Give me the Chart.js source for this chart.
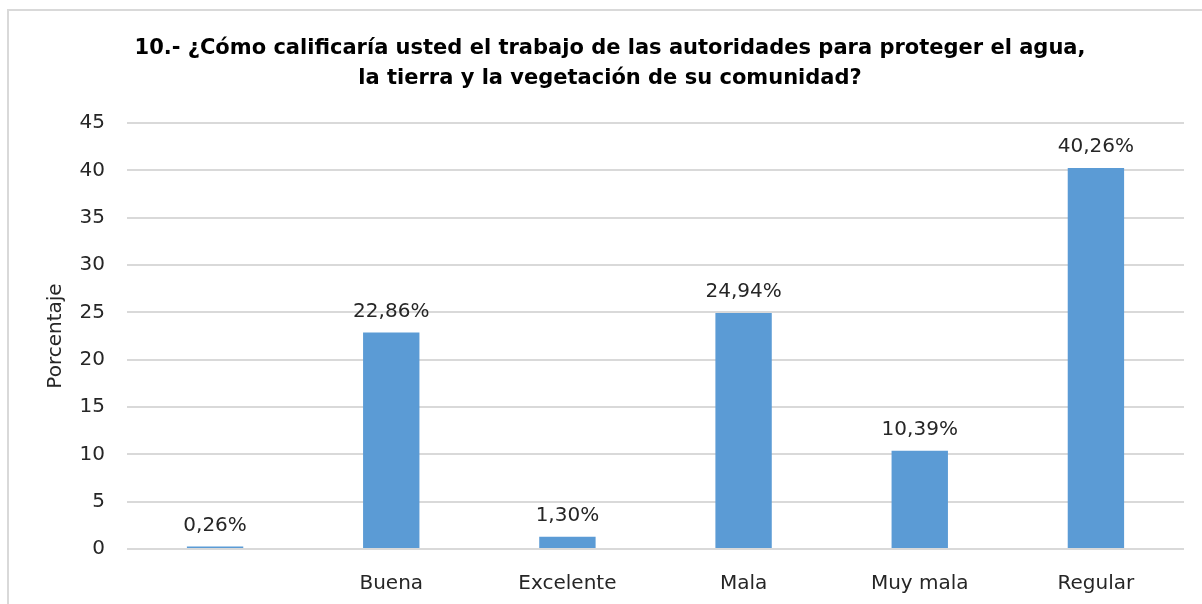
<!DOCTYPE html>
<html>
<head>
<meta charset="utf-8">
<script src="https://cdn.jsdelivr.net/npm/chart.js@4"></script>
<style>
  body { margin: 0; background: #fff; }
  #wrap { width: 1202px; height: 604px; }
</style>
</head>
<body>
<div id="wrap"><canvas id="grafico"></canvas></div>
<script>
// dados
const categorias = ["", "Buena", "Excelente", "Mala", "Muy mala", "Regular"];
const porcentagens = [0.26, 22.86, 1.30, 24.94, 10.39, 40.26];
const ticksY = [0, 5, 10, 15, 20, 25, 30, 35, 40, 45];

const fonte = "'DejaVu Sans', sans-serif";

// fundo branco + moldura cinza (a moldura sai pela direita/baixo como no original)
const moldura = {
  id: "moldura",
  beforeDraw(chart) {
    const ctx = chart.ctx;
    ctx.save();
    ctx.fillStyle = "#fff";
    ctx.fillRect(0, 0, chart.width, chart.height);
    ctx.strokeStyle = "#d9d9d9";
    ctx.lineWidth = 2;
    ctx.strokeRect(8, 10, chart.width + 20, chart.height + 20);
    ctx.restore();
  }
};

// rotulos em cima das barras (formato 40,26%)
const rotulos = {
  id: "rotulos",
  afterDatasetsDraw(chart) {
    const ctx = chart.ctx;
    const meta = chart.getDatasetMeta(0);
    ctx.save();
    ctx.font = "20px " + fonte;
    ctx.fillStyle = "#262626";
    ctx.textAlign = "center";
    ctx.textBaseline = "alphabetic";
    meta.data.forEach((bar, i) => {
      const txt = porcentagens[i].toFixed(2).replace(".", ",") + "%";
      ctx.fillText(txt, bar.x, bar.y - 16);
    });
    ctx.restore();
  }
};

new Chart(document.getElementById("grafico"), {
  type: "bar",
  data: {
    labels: categorias,
    datasets: [{
      data: porcentagens,
      backgroundColor: "#5b9bd5",
      borderWidth: 0,
      barPercentage: 0.64,
      categoryPercentage: 0.5
    }]
  },
  options: {
    responsive: true,
    maintainAspectRatio: false,
    animation: false,
    layout: { padding: { left: 36, right: 18, top: 0, bottom: 0 } }, // left 36 para centralizar o titulo como no original
    plugins: {
      legend: { display: false },
      tooltip: { enabled: false },
      title: {
        display: true,
        text: [
          "10.- ¿Cómo calificaría usted el trabajo de las autoridades para proteger el agua,",
          "la tierra y la vegetación de su comunidad?"
        ],
        color: "#000",
        font: { family: fonte, size: 21, weight: "bold", lineHeight: 1.43 },
        padding: { top: 34, bottom: 29 }
      }
    },
    scales: {
      x: {
        grid: { display: false },
        border: { display: false },
        ticks: { color: "#262626", font: { family: fonte, size: 20 }, padding: 15, maxRotation: 0 },
        afterFit: s => { s.height = 55; }
      },
      y: {
        min: 0,
        max: 45,
        afterBuildTicks: s => { s.ticks = ticksY.map(v => ({ value: v })); },
        grid: { color: "#d9d9d9", lineWidth: 2, drawTicks: false },
        border: { display: false },
        ticks: { color: "#262626", font: { family: fonte, size: 20 }, padding: 22 },
        title: {
          display: true,
          text: "Porcentaje",
          color: "#262626",
          font: { family: fonte, size: 20 },
          padding: { top: 8, bottom: 0 }
        },
        afterFit: s => { s.width = 91; }
      }
    }
  },
  plugins: [moldura, rotulos]
});
</script>
</body>
</html>
